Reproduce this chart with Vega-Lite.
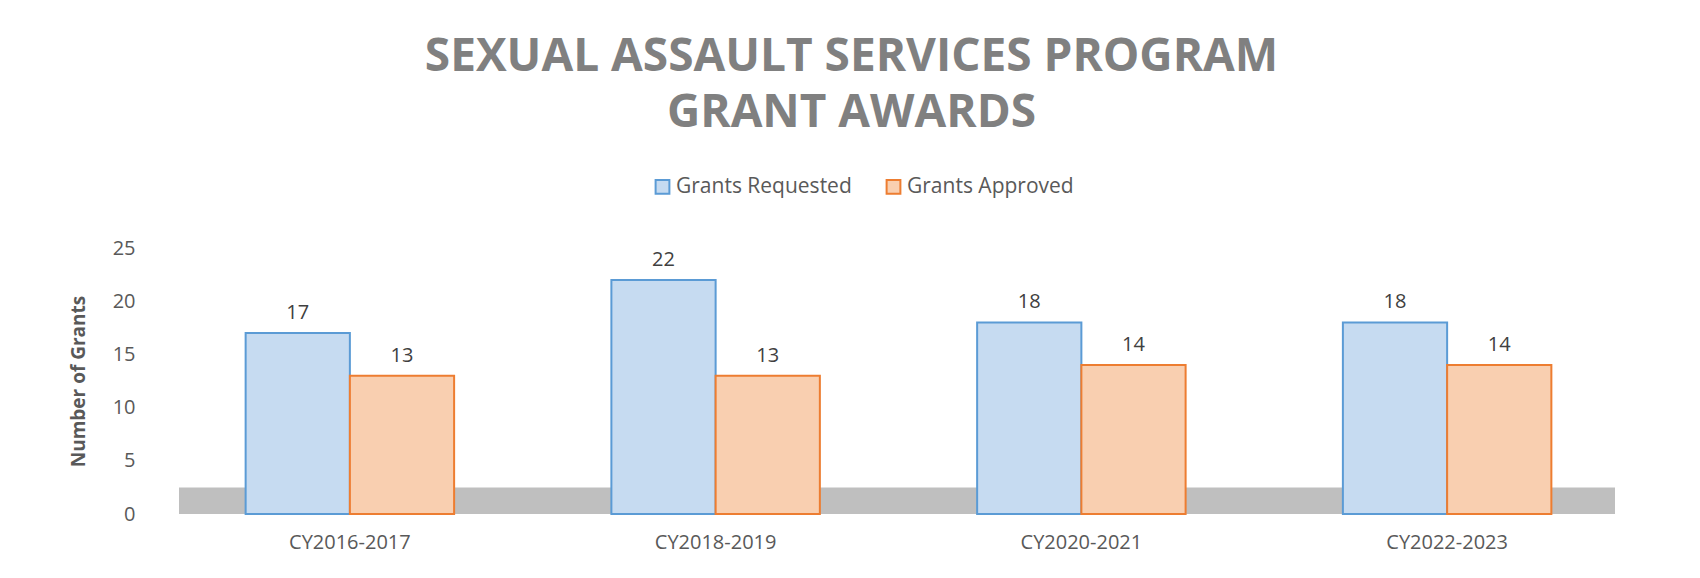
{
  "$schema": "https://vega.github.io/schema/vega-lite/v6.json",
  "autosize": {"type": "none"},
  "width": 1463,
  "height": 266,
  "padding": {"left": 167, "top": 248, "right": 70, "bottom": 64},
  "background": "white",
  "config": {
    "font": "Open Sans",
    "view": {"stroke": null}
  },
  "title": {
    "text": ["SEXUAL ASSAULT SERVICES PROGRAM", "GRANT AWARDS"],
    "font": "Open Sans",
    "fontSize": 46,
    "fontWeight": "bold",
    "color": "#808080",
    "lineHeight": 56,
    "anchor": "middle",
    "frame": "group",
    "dx": -47,
    "offset": 39
  },
  "datasets": {
    "grants": [
      {"period": "CY2016-2017", "series": "Grants Requested", "value": 17},
      {"period": "CY2016-2017", "series": "Grants Approved", "value": 13},
      {"period": "CY2018-2019", "series": "Grants Requested", "value": 22},
      {"period": "CY2018-2019", "series": "Grants Approved", "value": 13},
      {"period": "CY2020-2021", "series": "Grants Requested", "value": 18},
      {"period": "CY2020-2021", "series": "Grants Approved", "value": 14},
      {"period": "CY2022-2023", "series": "Grants Requested", "value": 18},
      {"period": "CY2022-2023", "series": "Grants Approved", "value": 14}
    ],
    "floor": [
      {"part": "floor"}
    ]
  },
  "layer": [
    {
      "data": {"name": "floor"},
      "mark": {"type": "rect", "fill": "#bfbfbf"},
      "encoding": {
        "x": {"value": 12},
        "x2": {"value": 1448},
        "y": {
          "datum": 0,
          "type": "quantitative",
          "scale": {"domain": [0, 25], "nice": false},
          "axis": {
            "title": "Number of Grants",
            "titleFontSize": 19,
            "titleFontWeight": "bold",
            "titleColor": "#595959",
            "titleX": -89,
            "titleY": 133,
            "titleAngle": -90,
            "titleBaseline": "middle",
            "titleAnchor": "middle",
            "values": [0, 5, 10, 15, 20, 25],
            "labelFontSize": 20,
            "labelColor": "#595959",
            "labelPadding": 32,
            "domain": false,
            "ticks": false,
            "grid": false
          }
        },
        "y2": {"datum": 2.5}
      }
    },
    {
      "data": {"name": "grants"},
      "mark": {"type": "bar", "strokeWidth": 2, "width": {"band": 1}},
      "encoding": {
        "x": {
          "field": "period",
          "type": "nominal",
          "sort": null,
          "scale": {"paddingInner": 0.43, "paddingOuter": 0.215},
          "axis": {
            "title": null,
            "labelAngle": 0,
            "labelFontSize": 20,
            "labelColor": "#595959",
            "labelPadding": 18,
            "domain": false,
            "ticks": false
          }
        },
        "y": {
          "field": "value",
          "type": "quantitative",
          "scale": {"domain": [0, 25], "nice": false},
          "axis": {
            "title": "Number of Grants",
            "titleFontSize": 19,
            "titleFontWeight": "bold",
            "titleColor": "#595959",
            "titleX": -89,
            "titleY": 133,
            "titleAngle": -90,
            "titleBaseline": "middle",
            "titleAnchor": "middle",
            "values": [0, 5, 10, 15, 20, 25],
            "labelFontSize": 20,
            "labelColor": "#595959",
            "labelPadding": 32,
            "domain": false,
            "ticks": false,
            "grid": false
          }
        },
        "xOffset": {"field": "series", "type": "nominal", "sort": ["Grants Requested", "Grants Approved"], "scale": {"paddingInner": 0}},
        "fill": {
          "field": "series",
          "type": "nominal",
          "sort": ["Grants Requested", "Grants Approved"],
          "scale": {"domain": ["Grants Requested", "Grants Approved"], "range": ["#c6dbf1", "#f9cfb0"]},
          "legend": {
            "title": null,
            "orient": "none",
            "direction": "horizontal",
            "legendX": 485,
            "legendY": -72,
            "padding": 0,
            "symbolType": "square",
            "symbolSize": 190,
            "symbolStrokeWidth": 2,
            "labelFontSize": 21,
            "labelColor": "#595959",
            "labelOffset": 3,
            "labelLimit": 400,
            "columnPadding": 30
          }
        },
        "stroke": {
          "field": "series",
          "type": "nominal",
          "sort": ["Grants Requested", "Grants Approved"],
          "scale": {"domain": ["Grants Requested", "Grants Approved"], "range": ["#5b9bd5", "#ed7d31"]},
          "legend": {
            "title": null,
            "orient": "none",
            "direction": "horizontal",
            "legendX": 485,
            "legendY": -72,
            "padding": 0,
            "symbolType": "square",
            "symbolSize": 190,
            "symbolStrokeWidth": 2,
            "labelFontSize": 21,
            "labelColor": "#595959",
            "labelOffset": 3,
            "labelLimit": 400,
            "columnPadding": 30
          }
        }
      }
    },
    {
      "data": {"name": "grants"},
      "mark": {"type": "text", "fontSize": 20, "color": "#404040", "baseline": "bottom", "dy": -10},
      "encoding": {
        "x": {"field": "period", "type": "nominal", "sort": null},
        "y": {"field": "value", "type": "quantitative"},
        "xOffset": {"field": "series", "type": "nominal", "sort": ["Grants Requested", "Grants Approved"]},
        "text": {"field": "value", "type": "quantitative"}
      }
    }
  ]
}
